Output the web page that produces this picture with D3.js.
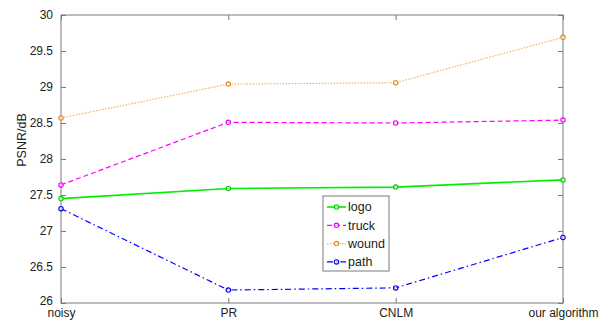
<!DOCTYPE html>
<html>
<head>
<meta charset="utf-8">
<script src="https://cdn.jsdelivr.net/npm/d3@7"></script>
<style>
  body { margin: 0; background: #fff; }
  text { font-family: "Liberation Sans", Arial, sans-serif; fill: #222; }
</style>
</head>
<body>
<div id="chart"></div>
<script>
// categories and series values
const categories = ["noisy", "PR", "CNLM", "our algorithm"];
const logo  = [27.45, 27.59, 27.61, 27.71];
const truck = [27.64, 28.51, 28.50, 28.54];
const wound = [28.57, 29.04, 29.06, 29.69];
const path  = [27.31, 26.18, 26.21, 26.91];
const yTicks = [26, 26.5, 27, 27.5, 28, 28.5, 29, 29.5, 30];
const yTickLabels = ["26", "26.5", "27", "27.5", "28", "28.5", "29", "29.5", "30"];

const series = [
  { name: "logo",  values: logo,  color: "#00ee00", dash: null,      width: 1.6, marker: "#00cc00" },
  { name: "truck", values: truck, color: "#ff00ff", dash: "5,3",     width: 1.2, marker: "#ee00ee" },
  { name: "wound", values: wound, color: "#f7b15a", dash: "1.5,1.5", width: 1.2, marker: "#e08a20" },
  { name: "path",  values: path,  color: "#0000ff", dash: "6,3,1.5,3", width: 1.2, marker: "#0000ee" }
];

const W = 610, H = 322;
const margin = { top: 15, left: 61, right: 47, bottom: 19 };
const width = W - margin.left - margin.right,
      height = H - margin.top - margin.bottom;

const svg = d3.select("#chart").append("svg")
  .attr("width", W)
  .attr("height", H)
  .append("g")
  .attr("transform", "translate(" + margin.left + "," + margin.top + ")");

const x = d3.scalePoint().domain(categories).range([0, width]);
const y = d3.scaleLinear().domain([26, 30]).range([height, 0]);

const axisColor = "#7a7a7a";

// box
svg.append("rect")
  .attr("width", width).attr("height", height)
  .attr("fill", "none").attr("stroke", axisColor).attr("stroke-width", 1);

// left axis (ticks inside)
const yAxisL = svg.append("g")
  .call(d3.axisLeft(y).tickValues(yTicks).tickSize(-5).tickPadding(8)
    .tickFormat((d, i) => yTickLabels[i]));
// right axis ticks only
const yAxisR = svg.append("g")
  .attr("transform", "translate(" + width + ",0)")
  .call(d3.axisRight(y).tickValues(yTicks).tickSize(-5).tickFormat(""));
// bottom axis
const xAxisB = svg.append("g")
  .attr("transform", "translate(0," + height + ")")
  .call(d3.axisBottom(x).tickSize(-5).tickPadding(9));
// top axis ticks only
const xAxisT = svg.append("g")
  .call(d3.axisTop(x).tickSize(-5).tickFormat(""));

[yAxisL, yAxisR, xAxisB, xAxisT].forEach(g => {
  g.select(".domain").remove();
  g.selectAll(".tick line").attr("stroke", axisColor);
  g.selectAll(".tick text")
    .style("font-size", "12px")
    .attr("fill", "#222");
});
// x labels sit just under the axis
xAxisB.selectAll(".tick text").attr("y", 5).attr("dy", "0.71em");
// lowest y label nudged up so it does not collide with "noisy"
yAxisL.selectAll(".tick text").filter(d => d === 26).attr("dy", "0.1em");

// y axis label
svg.append("text")
  .attr("transform", "rotate(-90)")
  .attr("x", -height / 2 + 19)
  .attr("y", -35)
  .style("text-anchor", "middle")
  .style("font-size", "12.5px")
  .text("PSNR/dB");

const line = d3.line()
  .x((d, i) => x(categories[i]))
  .y(d => y(d));

series.forEach(s => {
  svg.append("path")
    .datum(s.values)
    .attr("d", line)
    .attr("fill", "none")
    .attr("stroke", s.color)
    .attr("stroke-width", s.width)
    .attr("stroke-dasharray", s.dash);

  svg.selectAll(null)
    .data(s.values)
    .enter()
    .append("circle")
      .attr("cx", (d, i) => x(categories[i]))
      .attr("cy", d => y(d))
      .attr("r", 2.2)
      .attr("fill", "#fff")
      .attr("fill-opacity", 0.6)
      .attr("stroke", s.marker)
      .attr("stroke-width", 1.1);
});

// legend
const legend = svg.append("g")
  .attr("transform", "translate(" + (323 - margin.left) + "," + (196 - margin.top) + ")");
legend.append("rect")
  .attr("width", 66).attr("height", 75)
  .attr("fill", "#fff").attr("stroke", axisColor);

series.forEach((s, i) => {
  const row = legend.append("g").attr("transform", "translate(0," + (11 + i * 18.3) + ")");
  row.append("line")
    .attr("x1", 4).attr("x2", 23)
    .attr("stroke", s.color)
    .attr("stroke-width", s.width)
    .attr("stroke-dasharray", s.dash);
  row.append("circle")
    .attr("cx", 13.5).attr("r", 2.2)
    .attr("fill", "#fff").attr("fill-opacity", 0.6)
    .attr("stroke", s.marker).attr("stroke-width", 1.1);
  row.append("text")
    .attr("x", 25).attr("dy", "0.35em")
    .style("font-size", "12.5px")
    .text(s.name);
});
</script>
</body>
</html>
